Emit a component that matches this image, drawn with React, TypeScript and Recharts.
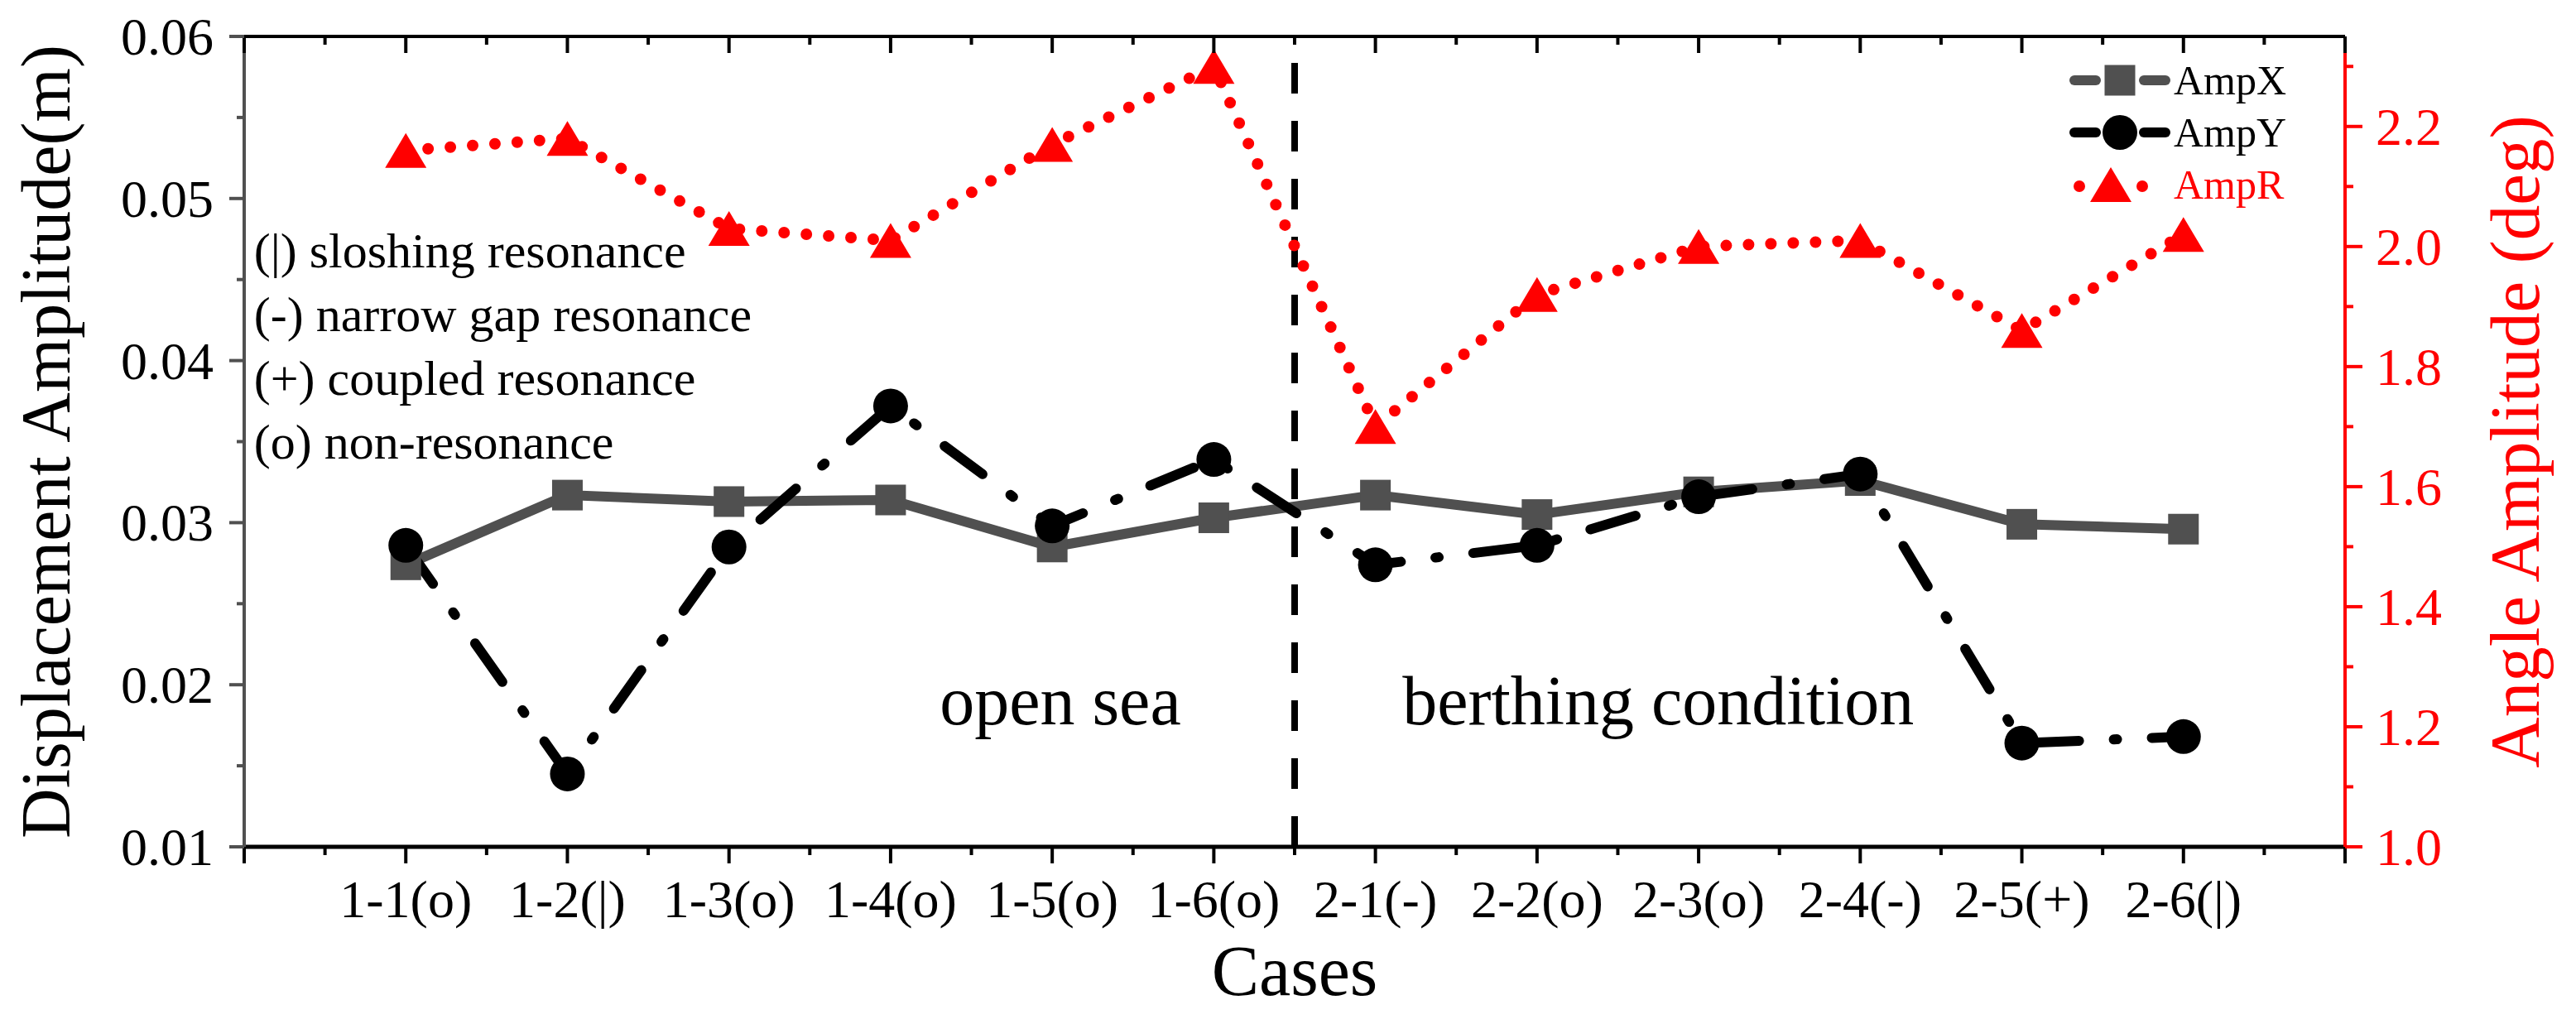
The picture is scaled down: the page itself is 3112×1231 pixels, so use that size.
import React from 'react'
import { LineChart, Line, XAxis, YAxis, Legend, ReferenceLine, ReferenceDot } from 'recharts'

// case names on the x axis (positions 1..12)
const cases = ['1-1(o)', '1-2(|)', '1-3(o)', '1-4(o)', '1-5(o)', '1-6(o)', '2-1(-)', '2-2(o)', '2-3(o)', '2-4(-)', '2-5(+)', '2-6(|)']

// displacement amplitudes (m)
const ampX = [0.0274, 0.0317, 0.0313, 0.0314, 0.0285, 0.0303, 0.0317, 0.0305, 0.0319, 0.0326, 0.0299, 0.0296]
const ampY = [0.0286, 0.0145, 0.0285, 0.0372, 0.0298, 0.0339, 0.0274, 0.0286, 0.0316, 0.0330, 0.0164, 0.0168]
// angle amplitude (deg)
const ampR = [2.16, 2.18, 2.03, 2.01, 2.17, 2.30, 1.70, 1.92, 2.00, 2.01, 1.86, 2.02]

const xTicks = [0, 0.5, 1, 1.5, 2, 2.5, 3, 3.5, 4, 4.5, 5, 5.5, 6, 6.5, 7, 7.5, 8, 8.5, 9, 9.5, 10, 10.5, 11, 11.5, 12, 12.5, 13]
const leftTicks = [0.01, 0.015, 0.02, 0.025, 0.03, 0.035, 0.04, 0.045, 0.05, 0.055, 0.06]
const rightTicks = [1.0, 1.1, 1.2, 1.3, 1.4, 1.5, 1.6, 1.7, 1.8, 1.9, 2.0, 2.1, 2.2, 2.3]

const legendOrder = ['ampX', 'ampY', 'ampR']
const resonanceNotes = ['(|) sloshing resonance', '(-) narrow gap resonance', '(+) coupled resonance', '(o) non-resonance']

const data = cases.map((c, i) => ({ x: i + 1, ampX: ampX[i], ampY: ampY[i], ampR: ampR[i] }))

const FONT = "'Liberation Serif', 'Times New Roman', Times, serif"
const GRAY = '#505050'
const RED = '#ff0000'

const W = 3096
const H = 1215

const isMult = (v: number, step: number) => Math.abs(v / step - Math.round(v / step)) < 1e-6

const BottomTick = (props: any) => {
  const { x, y, payload } = props
  const v = payload.value
  const major = isMult(v, 1)
  const label = major && v >= 1 && v <= 12 ? cases[v - 1] : null
  return (
    <g>
      <line x1={x} y1={y} x2={x} y2={y + (major ? 20 : 10)} stroke="#000" strokeWidth={4} />
      {label && (
        <text x={x} y={y + 85} textAnchor="middle" fontFamily={FONT} fontSize={64} fill="#000">
          {label}
        </text>
      )}
    </g>
  )
}

const TopTick = (props: any) => {
  const { x, y, payload } = props
  const major = isMult(payload.value, 1)
  return <line x1={x} y1={y} x2={x} y2={y + (major ? 20 : 10)} stroke="#000" strokeWidth={4} />
}

const LeftTick = (props: any) => {
  const { x, y, payload } = props
  const v = payload.value
  const major = isMult(v, 0.01)
  return (
    <g>
      <line x1={x - (major ? 18 : 9)} y1={y} x2={x} y2={y} stroke={GRAY} strokeWidth={4} />
      {major && (
        <text x={x - 37} y={y + 22} textAnchor="end" fontFamily={FONT} fontSize={64} fill="#000">
          {v.toFixed(2)}
        </text>
      )}
    </g>
  )
}

const RightTick = (props: any) => {
  const { x, y, payload } = props
  const v = payload.value
  const major = isMult(v, 0.2)
  return (
    <g>
      <line x1={x} y1={y} x2={x + (major ? 21 : 10)} y2={y} stroke={RED} strokeWidth={4} />
      {major && (
        <text x={x + 37} y={y + 22} textAnchor="start" fontFamily={FONT} fontSize={64} fill={RED}>
          {v.toFixed(1)}
        </text>
      )}
    </g>
  )
}

// markers
const square = (cx: number, cy: number, key?: string) => (
  <rect key={key} x={cx - 18.5} y={cy - 18.5} width={37} height={37} fill={GRAY} />
)
const circle = (cx: number, cy: number, key?: string) => (
  <ellipse key={key} cx={cx} cy={cy} rx={21} ry={21} fill="#000" />
)
const triangle = (cx: number, cy: number, key?: string) => (
  <polygon key={key} points={`${cx},${cy - 21} ${cx - 25},${cy + 21} ${cx + 25},${cy + 21}`} fill={RED} />
)

const markers: Record<string, (cx: number, cy: number, key?: string) => React.ReactElement> = {
  ampX: square,
  ampY: circle,
  ampR: triangle,
}

const makeDot = (key: string) => (p: any) => {
  if (p.cx == null || p.cy == null) return <g key={`${key}-${p.index}`} />
  return markers[key](p.cx, p.cy, `${key}-${p.index}`)
}

const LegendContent = (props: any) => {
  const payload = [...(props.payload || [])].sort(
    (a: any, b: any) => legendOrder.indexOf(a.dataKey) - legendOrder.indexOf(b.dataKey)
  )
  return (
    <svg width={300} height={190} style={{ display: 'block', overflow: 'visible' }}>
      {payload.map((entry: any, i: number) => {
        const key = entry.dataKey as string
        const cy = 29 + i * 63
        const color = key === 'ampR' ? RED : '#000'
        return (
          <g key={key}>
            {key === 'ampR' ? (
              <g>
                <circle cx={22} cy={cy + 2} r={7} fill={RED} />
                <circle cx={98} cy={cy + 2} r={7} fill={RED} />
              </g>
            ) : (
              <g>
                <line x1={16} y1={cy} x2={42} y2={cy} stroke={entry.color} strokeWidth={12} strokeLinecap="round" />
                <line x1={100} y1={cy} x2={126} y2={cy} stroke={entry.color} strokeWidth={12} strokeLinecap="round" />
              </g>
            )}
            {markers[key](key === 'ampR' ? 60 : 71, cy, `${key}-lg`)}
            <text x={136} y={cy + 17} fontFamily={FONT} fontSize={50} fill={color}>
              {entry.value}
            </text>
          </g>
        )
      })}
    </svg>
  )
}

const NoteLabel = (props: any) => {
  const { viewBox, lines, anchor, size, gap } = props
  const cx = viewBox.x + (viewBox.width || 0) / 2
  const cy = viewBox.y + (viewBox.height || 0) / 2
  return (
    <g>
      {lines.map((t: string, i: number) => (
        <text key={t} x={cx} y={cy + i * gap} textAnchor={anchor} fontFamily={FONT} fontSize={size} fill="#000">
          {t}
        </text>
      ))}
    </g>
  )
}

const LeftTitle = (props: any) => {
  const { viewBox } = props
  const x = viewBox.x + 76
  const y = viewBox.y + viewBox.height / 2
  return (
    <text x={x} y={y} transform={`rotate(-90, ${x}, ${y})`} textAnchor="middle" fontFamily={FONT} fontSize={84} fill="#000">
      Displacement Amplitude(m)
    </text>
  )
}

const RightTitle = (props: any) => {
  const { viewBox } = props
  const x = viewBox.x + 234
  const y = viewBox.y + viewBox.height / 2
  return (
    <text x={x} y={y} transform={`rotate(-90, ${x}, ${y})`} textAnchor="middle" fontFamily={FONT} fontSize={85} fill={RED}>
      Angle Amplitude (deg)
    </text>
  )
}

const BottomTitle = (props: any) => {
  const { viewBox } = props
  return (
    <text x={viewBox.x + viewBox.width / 2} y={viewBox.y + 179} textAnchor="middle" fontFamily={FONT} fontSize={86} fill="#000">
      Cases
    </text>
  )
}

export default function App() {
  return (
    <div style={{ width: W, height: H }}>
      <LineChart width={W} height={H} data={data} margin={{ top: 35, right: 0, bottom: 0, left: 0 }}>
        <XAxis
          xAxisId="bottom"
          dataKey="x"
          type="number"
          domain={[0, 13]}
          ticks={xTicks}
          interval={0}
          height={200}
          tickSize={0}
          tickMargin={0}
          tickLine={false}
          tick={(p: any) => <BottomTick {...p} />}
          axisLine={{ stroke: '#000', strokeWidth: 5 }}
          label={<BottomTitle />}
        />
        <XAxis
          xAxisId="top"
          orientation="top"
          dataKey="x"
          type="number"
          domain={[0, 13]}
          ticks={xTicks}
          interval={0}
          height={1}
          tickSize={0}
          tickMargin={0}
          tickLine={false}
          tick={(p: any) => <TopTick {...p} />}
          axisLine={{ stroke: '#000', strokeWidth: 4 }}
        />
        <YAxis
          yAxisId="left"
          type="number"
          domain={[0.01, 0.06]}
          ticks={leftTicks}
          interval={0}
          width={287}
          tickSize={0}
          tickMargin={0}
          tickLine={false}
          tick={(p: any) => <LeftTick {...p} />}
          axisLine={{ stroke: GRAY, strokeWidth: 4 }}
          label={<LeftTitle />}
        />
        <YAxis
          yAxisId="right"
          orientation="right"
          type="number"
          domain={[1.0, 2.35]}
          ticks={rightTicks}
          interval={0}
          width={271}
          tickSize={0}
          tickMargin={0}
          tickLine={false}
          tick={(p: any) => <RightTick {...p} />}
          axisLine={{ stroke: RED, strokeWidth: 4 }}
          label={<RightTitle />}
        />

        <ReferenceLine
          xAxisId="bottom"
          yAxisId="left"
          x={6.5}
          stroke="#000"
          strokeWidth={8}
          strokeDasharray="37 33"
        />

        <Line
          xAxisId="bottom"
          yAxisId="left"
          name="AmpX"
          dataKey="ampX"
          stroke={GRAY}
          strokeWidth={12}
          strokeLinecap="round"
          dot={makeDot('ampX')}
          activeDot={false}
          isAnimationActive={false}
        />
        <Line
          xAxisId="bottom"
          yAxisId="left"
          name="AmpY"
          dataKey="ampY"
          stroke="#000"
          strokeWidth={12}
          strokeLinecap="round"
          strokeDasharray="57 42 4 42"
          dot={makeDot('ampY')}
          activeDot={false}
          isAnimationActive={false}
        />
        <Line
          xAxisId="bottom"
          yAxisId="right"
          name="AmpR"
          dataKey="ampR"
          stroke={RED}
          strokeWidth={14}
          strokeLinecap="round"
          strokeDasharray="0 27"
          dot={makeDot('ampR')}
          activeDot={false}
          isAnimationActive={false}
        />

        <ReferenceDot
          xAxisId="bottom"
          yAxisId="left"
          x={0.06}
          y={0.04575}
          r={1}
          fill="none"
          stroke="none"
          label={<NoteLabel lines={resonanceNotes} anchor="start" size={60} gap={77} />}
        />
        <ReferenceDot
          xAxisId="bottom"
          yAxisId="left"
          x={5.05}
          y={0.01756}
          r={1}
          fill="none"
          stroke="none"
          label={<NoteLabel lines={['open sea']} anchor="middle" size={84} gap={0} />}
        />
        <ReferenceDot
          xAxisId="bottom"
          yAxisId="left"
          x={8.75}
          y={0.01756}
          r={1}
          fill="none"
          stroke="none"
          label={<NoteLabel lines={['berthing condition']} anchor="middle" size={84} gap={0} />}
        />

        <Legend
          layout="vertical"
          align="center"
          verticalAlign="middle"
          wrapperStyle={{ left: 2482, top: 60, width: 300, height: 190 }}
          content={(p: any) => <LegendContent {...p} />}
        />
      </LineChart>
    </div>
  )
}
